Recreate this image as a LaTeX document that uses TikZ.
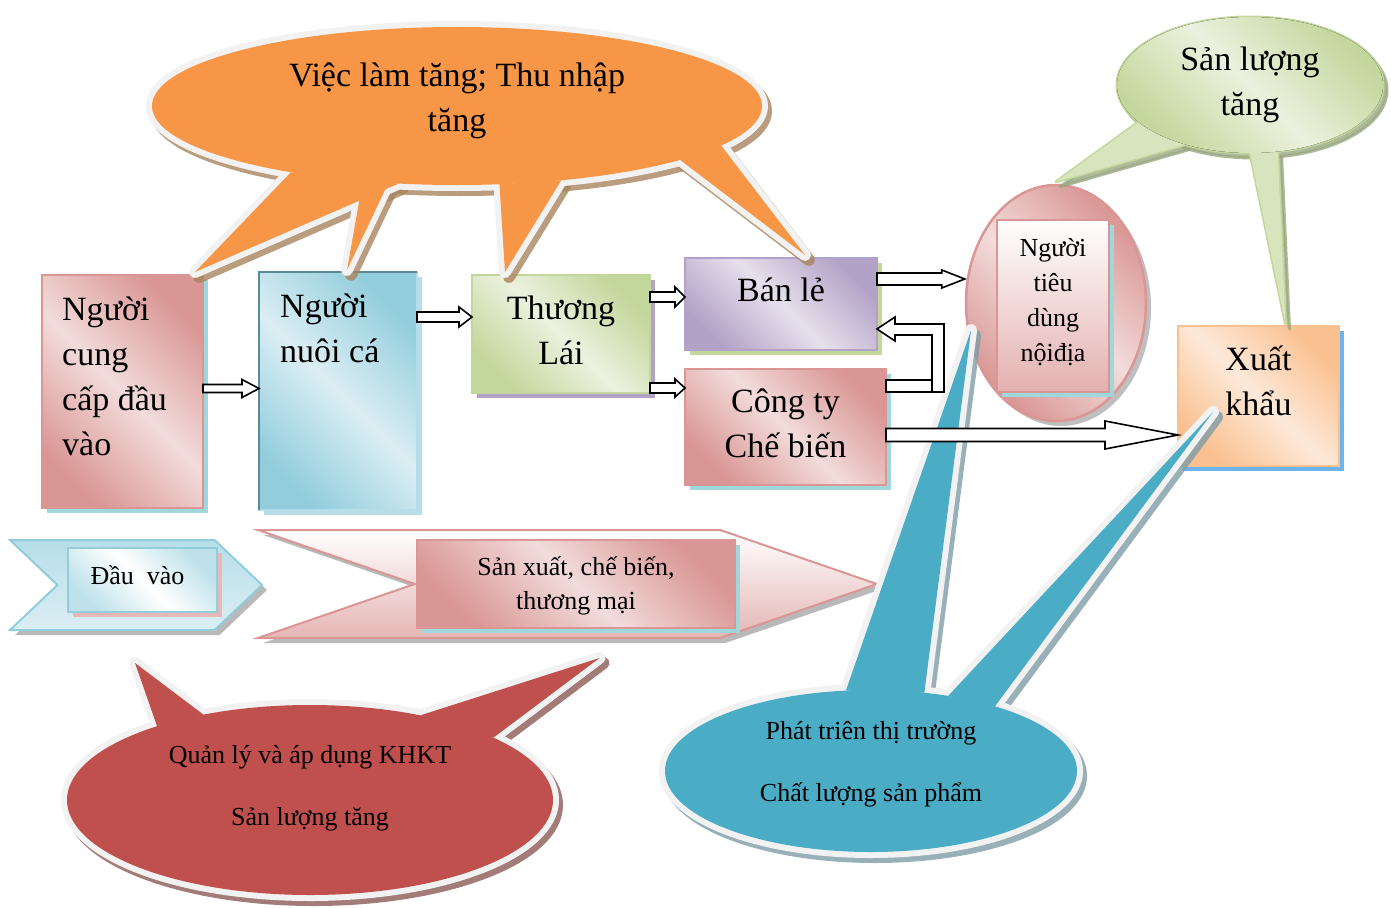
\documentclass[tikz,border=0pt]{standalone}
\usepackage{fontspec}
\setmainfont{Liberation Serif}
\usetikzlibrary{calc,positioning,shapes.geometric,shapes.symbols,shadows}

\definecolor{orangeC}{HTML}{F79646}
\definecolor{redC}{HTML}{C0504D}
\definecolor{tealC}{HTML}{4BACC6}
\definecolor{greenD}{HTML}{C3D69B}
\definecolor{greenM}{HTML}{D7E4BD}
\definecolor{greenL}{HTML}{EBF1DE}
\definecolor{pinkD}{HTML}{D99694}
\definecolor{pinkL}{HTML}{F2DCDB}
\definecolor{pinkS}{HTML}{E6B9B8}
\definecolor{blueD}{HTML}{92CDDC}
\definecolor{blueM}{HTML}{B7DEE8}
\definecolor{blueL}{HTML}{DBEEF4}
\definecolor{blueE}{HTML}{5A8A96}
\definecolor{purpD}{HTML}{B3A2C7}
\definecolor{purpL}{HTML}{E6E0EC}
\definecolor{apriD}{HTML}{FAC090}
\definecolor{apriL}{HTML}{FDE9D9}
\definecolor{skyS}{HTML}{6CB4EE}
\definecolor{cyanS}{HTML}{9ED8DC}
\definecolor{rimC}{HTML}{F2F2F2}
\definecolor{jobS}{HTML}{A8845E}
\definecolor{yldS}{HTML}{9AA882}
\definecolor{techS}{HTML}{8C5A58}
\definecolor{markS}{HTML}{7E9CA6}

\tikzset{
  diag/.style 2 args={left color=#1, right color=#1, middle color=#2, shading angle=135},
  box/.style={rectangle, inner sep=0pt, outer sep=0pt, line width=2.5pt},
  backshadow/.style={drop shadow={shadow xshift=5pt, shadow yshift=-5pt, fill=#1, opacity=1}},
  bigtxt/.style={font=\fontsize{34}{45}\selectfont, inner sep=0pt},
  smalltxt/.style={font=\fontsize{26}{34}\selectfont, inner sep=0pt},
  arrowline/.style={draw=black, fill=white, line width=1.6pt, line join=miter},
  cshadow/.style={fill=#1, draw=#1, line width=12pt, line join=round, opacity=.8,
    transform canvas={xshift=4pt, yshift=-5pt}},
  crim/.style={draw=#1, line width=12pt, line join=round},
  cedge/.style={draw=#1, line width=3pt, line join=round},
  cfill/.style={fill=#1},
}

% callout: ellipse plus tails (angle/angle/tip)
\newcommand{\bubble}[4]{%
  \path[#1] (#2) ellipse (#3);
  \foreach \anga/\angb/\tip in #4 {
    \path[#1] ($(#2)+(\anga:#3)$) -- (\tip) -- ($(#2)+(\angb:#3)$) -- cycle;
  }%
}
% hollow block arrow: start, end, shaft half, head half, head length
\newcommand{\blockarrow}[5]{%
  \draw[arrowline] ($(#1)+(0,-#3)$) -- ($(#2)+(-#5,-#3)$) -- ($(#2)+(-#5,-#4)$) -- (#2)
    -- ($(#2)+(-#5,#4)$) -- ($(#2)+(-#5,#3)$) -- ($(#1)+(0,#3)$) -- cycle;%
}
\newcommand{\jobtails}{123/101/tjA, 108/103/tjB, 82/70/tjC, 43/30/tjD}
\newcommand{\yldtails}{147/119/tgA, 90/78/tgB}
\newcommand{\techtails}{231/244/trA, 297/319/trB}
\newcommand{\marktails}{263/285/tbA, 292/307/tbB}

\begin{document}
\begin{tikzpicture}[x=1pt, y=-1pt]
\useasboundingbox (0,0) rectangle (1391,907);

% actors of the chain
\node[box, diag={pinkD}{pinkL}, draw=pinkD, backshadow=cyanS, minimum width=161, minimum height=233] (sup) at (122.5,391.5) {};
\node[box, diag={blueD}{blueL}, draw=blueM, backshadow=blueM, minimum width=158, minimum height=238] (farm) at (338,391) {};
\draw[blueE, line width=2.5pt] (farm.south west) -- (farm.north west) -- (farm.north east);
\node[box, diag={greenD}{greenL}, draw=greenD, backshadow=purpD, minimum width=178, minimum height=118] (trader) at (561,334) {};
\node[box, diag={purpD}{purpL}, draw=purpD, backshadow=greenD, minimum width=192, minimum height=92] (retail) at (781,304) {};
\node[box, diag={pinkD}{pinkL}, draw=pinkD, backshadow=cyanS, minimum width=201, minimum height=116] (proc) at (785.5,427) {};
\node[ellipse, inner sep=0pt, line width=2.5pt, diag={pinkD}{pinkL}, draw=pinkD, backshadow=gray!50, minimum width=180, minimum height=236] (cons) at (1056,303) {};
\node[box, top color=white, bottom color=pinkD!75, draw=pinkD, backshadow=cyanS, minimum width=112, minimum height=172] (consbox) at (1053,306) {};
\node[box, diag={apriD}{apriL}, draw=apriD, backshadow=skyS, minimum width=161, minimum height=140] (export) at (1258.5,396) {};

% stages
\node[signal, signal from=west, signal to=east, signal pointer angle=87, inner sep=0pt, line width=2pt,
  top color=blueM, bottom color=blueL, draw=blueD, backshadow=gray!55, minimum width=252, minimum height=90] (inarrow) at (136,585) {};
\node[signal, signal from=west, signal to=east, signal pointer angle=38, inner sep=0pt, line width=2pt,
  top color=white, bottom color=pinkD!70, draw=pinkD, backshadow=gray!55, minimum width=619, minimum height=108] (prodarrow) at (567.5,584) {};
\node[box, diag={blueD!60}{white}, draw=blueD, backshadow=pinkS, minimum width=149, minimum height=64] (inbox) at (142.5,580) {};
\node[box, diag={pinkD}{pinkL}, draw=pinkD, backshadow=cyanS, minimum width=318, minimum height=88] (prodbox) at (576,584) {};

% labels
\node[bigtxt, anchor=west, align=left] (suptxt) at ($(sup.west)+(20,-15)$) {Người\\cung\\cấp đầu\\vào};
\node[bigtxt, anchor=west, align=left] (farmtxt) at ($(farm.west)+(21,-63)$) {Người\\nuôi cá};
\node[bigtxt, align=center] (tradertxt) at ($(trader.center)+(0,-4)$) {Thương\\Lái};
\node[bigtxt, below=20pt of retail.north] (retailtxt) {Bán lẻ};
\node[bigtxt, align=center] (proctxt) at ($(proc.center)+(0,-4)$) {Công ty\\Chế biến};
\node[smalltxt, align=center, font=\fontsize{26}{35}\selectfont] (constxt) at ($(consbox.center)+(0,-4)$) {Người\\tiêu\\dùng\\nộiđịa};
\node[bigtxt, align=center] (exporttxt) at ($(export.center)+(0,-15)$) {Xuất\\khẩu};
\node[smalltxt] (intxt) at ($(inbox.center)+(-5,-5)$) {Đầu\ \ vào};
\node[smalltxt, align=center] (prodtxt) at ($(prodbox.center)+(0,2)$) {Sản xuất, chế biến,\\thương mại};

% tips of the callouts
\coordinate (tjA) at ([xshift=-8pt,yshift=3pt]sup.north east);
\coordinate (tjB) at ([xshift=9pt,yshift=2pt]farm.north);
\coordinate (tjC) at ([xshift=-56pt,yshift=3pt]trader.north);
\coordinate (tjD) at ([xshift=24pt,yshift=3pt]retail.north);
\coordinate (tgA) at ([yshift=2pt]cons.north);
\coordinate (tgB) at ([xshift=27pt,yshift=2pt]export.north);
\coordinate (trA) at ([xshift=-1pt,yshift=-32pt]inarrow.south);
\coordinate (trB) at ([xshift=32pt,yshift=-19pt]prodarrow.south);
\coordinate (tbA) at ([xshift=3pt,yshift=5pt]cons.200);
\coordinate (tbB) at ([xshift=35pt,yshift=-16pt]export.west);

% jobs callout
\coordinate (jobc) at (457,106);
\bubble{cshadow=jobS}{jobc}{305 and 79}{\jobtails}
\bubble{crim=rimC}{jobc}{305 and 79}{\jobtails}
\bubble{cfill=orangeC}{jobc}{305 and 79}{\jobtails}
\node[bigtxt, align=center] (jobtxt) at ($(jobc)+(0,-5)$) {Việc làm tăng; Thu nhập\\tăng};

% output callout
\coordinate (yldc) at (1250,85);
\bubble{cshadow=yldS, line width=3pt}{yldc}{133 and 68}{\yldtails}
\bubble{cedge=greenD}{yldc}{133 and 68}{\yldtails}
\bubble{cfill=greenM}{yldc}{133 and 68}{\yldtails}
\fill[diag={greenD}{greenL}] (yldc) ellipse (133 and 68);
\node[bigtxt, align=center] (yldtxt) at ($(yldc)+(0,0)$) {Sản lượng\\tăng};

% technique callout
\coordinate (techc) at (310,800);
\bubble{cshadow=techS}{techc}{243 and 95}{\techtails}
\bubble{crim=rimC}{techc}{243 and 95}{\techtails}
\bubble{cfill=redC}{techc}{243 and 95}{\techtails}
\node[smalltxt, align=center] (techtxt) at ($(techc)+(0,-12)$) {Quản lý và áp dụng KHKT\\[28pt]Sản lượng tăng};

% market callout
\coordinate (markc) at (871,771);
\bubble{cshadow=markS}{markc}{206 and 81}{\marktails}
\bubble{crim=rimC}{markc}{206 and 81}{\marktails}
\bubble{cfill=tealC}{markc}{206 and 81}{\marktails}
\node[smalltxt, align=center] (marktxt) at ($(markc)+(0,-7)$) {Phát triên thị trường\\[28pt]Chất lượng sản phẩm};

% flows
\coordinate (s1) at ($(sup.east)+(0,-3)$);
\coordinate (s2) at ($(farm.east)+(0,-74)$);
\coordinate (s3) at ($(trader.east)+(0,-37)$);
\coordinate (s4) at ($(trader.east)+(0,54)$);
\coordinate (s5) at ($(retail.east)+(0,-25)$);
\coordinate (s6) at ($(proc.east)+(0,8)$);
\blockarrow{s1}{farm.west |- s1}{4}{9}{17}
\blockarrow{s2}{trader.west |- s2}{5}{10}{13}
\blockarrow{s3}{retail.west |- s3}{5}{10}{10}
\blockarrow{s4}{proc.west |- s4}{5}{9}{10}
\blockarrow{s5}{cons.west |- s5}{6}{9}{23}
\blockarrow{s6}{export.west |- s6}{6.5}{14}{73}
\draw[arrowline] ($(proc.east)+(0,-47)$) -- ++(46,0) -- ++(0,-45) -- ++(-37,0) -- ++(0,6)
  -- ($(retail.east)+(0,25)$) -- ++(18,-12) -- ++(0,7) -- ++(49,0) -- ++(0,68)
  -- ($(proc.east)+(0,-35)$) -- cycle;
\draw[arrowline] ($(proc.east)+(46,-47)$) -- ++(0,12);
\end{tikzpicture}
\end{document}
